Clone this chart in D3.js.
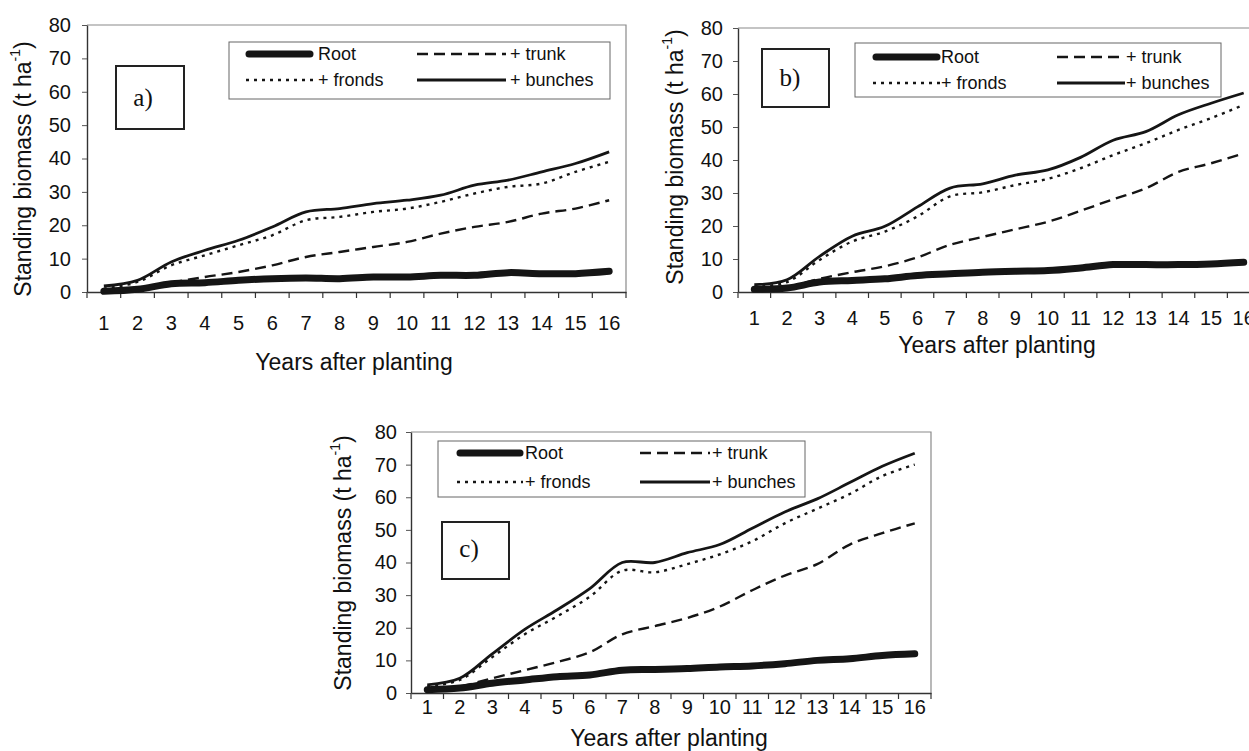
<!DOCTYPE html>
<html>
<head>
<meta charset="utf-8">
<script src="https://cdn.jsdelivr.net/npm/d3@7"></script>
<style>
  html, body { margin: 0; padding: 0; background: #fff; }
  svg { display: block; }
  text { font-family: "Liberation Sans", Arial, sans-serif; fill: #111; }
  .panel-tag { font-family: "Liberation Serif", "Times New Roman", serif; }
</style>
</head>
<body>
<svg id="chart" width="1249" height="751"></svg>
<script>
// Categories and tick labels
const years = [1, 2, 3, 4, 5, 6, 7, 8, 9, 10, 11, 12, 13, 14, 15, 16];
const yTicks = [0, 10, 20, 30, 40, 50, 60, 70, 80];
const seriesNames = ["Root", "+ trunk", "+ fronds", "+ bunches"];
const panelTags = ["a)", "b)", "c)"];

// Cumulative standing biomass (t ha-1), panel a
const rootA    = [0.2, 0.8, 2.5, 2.8, 3.5, 4.0, 4.2, 4.0, 4.5, 4.5, 5.0, 5.0, 5.8, 5.5, 5.5, 6.2];
const trunkA   = [0.3, 1.0, 2.8, 4.5, 6.0, 8.0, 10.5, 12.0, 13.5, 15.0, 17.5, 19.5, 21.0, 23.5, 25.0, 27.5];
const frondsA  = [1.0, 3.0, 8.0, 11.0, 14.0, 17.0, 21.5, 22.5, 24.0, 25.0, 27.0, 29.5, 31.5, 32.5, 36.0, 39.0];
const bunchesA = [1.8, 3.5, 9.0, 12.5, 15.5, 19.5, 24.0, 25.0, 26.5, 27.5, 29.0, 32.0, 33.5, 36.0, 38.5, 42.0];

// Panel b
const rootB    = [0.8, 1.2, 3.0, 3.5, 4.0, 5.0, 5.5, 6.0, 6.3, 6.5, 7.3, 8.3, 8.3, 8.3, 8.5, 9.0];
const trunkB   = [0.8, 1.5, 4.0, 6.0, 7.8, 10.5, 14.3, 16.7, 19.0, 21.3, 24.6, 28.1, 31.4, 36.4, 39.0, 42.0];
const frondsB  = [1.5, 3.0, 9.7, 15.3, 18.3, 22.9, 29.0, 30.2, 32.4, 34.3, 37.5, 41.5, 45.1, 49.1, 52.7, 56.7];
const bunchesB = [2.2, 3.7, 10.8, 16.9, 19.9, 25.8, 31.5, 32.8, 35.4, 37.0, 40.8, 46.0, 48.6, 53.7, 57.2, 60.3];

// Panel c
const rootC    = [1.0, 1.5, 3.0, 4.0, 5.0, 5.5, 7.0, 7.2, 7.5, 8.0, 8.3, 9.0, 10.0, 10.5, 11.5, 12.0];
const trunkC   = [1.0, 2.0, 4.5, 7.0, 9.5, 12.5, 18.0, 20.5, 23.0, 26.5, 31.5, 36.0, 39.5, 45.5, 49.0, 52.0];
const frondsC  = [2.0, 4.0, 11.0, 18.0, 23.5, 29.5, 37.5, 37.0, 39.5, 42.5, 46.5, 52.0, 56.5, 61.0, 66.5, 70.0];
const bunchesC = [2.5, 4.5, 12.0, 19.5, 25.5, 32.0, 40.0, 40.0, 43.0, 45.5, 50.5, 55.5, 59.5, 64.5, 69.5, 73.5];

// Line styles, in series order
const lineStyles = [
  { width: 7,   dash: null,   cap: "round" },
  { width: 2.4, dash: "11,6", cap: "butt" },
  { width: 2.4, dash: "3,5",  cap: "butt" },
  { width: 2.8, dash: null,   cap: "butt" }
];

// Panel geometry
const panels = [
  {
    series: [rootA, trunkA, frondsA, bunchesA],
    plot: { left: 87, right: 626, top: 25, bottom: 292 },
    xLabelY: 323, xTitle: { x: 354, y: 362 },
    yLabelRight: 71, yTitle: { x: 23, y: 169 },
    tag: { x0: 116, y0: 66, x1: 184, y1: 129, tx: 143, ty: 97 },
    legend: { x0: 229, y0: 42, x1: 610, y1: 99, rows: [54, 80],
              cols: [{ l0: 246, l1: 313, t: 318 }, { l0: 417, l1: 506, t: 510 }] }
  },
  {
    series: [rootB, trunkB, frondsB, bunchesB],
    plot: { left: 738, right: 1260, top: 28, bottom: 292 },
    xLabelY: 318, xTitle: { x: 997, y: 345 },
    yLabelRight: 723, yTitle: { x: 675, y: 157 },
    tag: { x0: 762, y0: 49, x1: 829, y1: 107, tx: 790, ty: 77 },
    legend: { x0: 855, y0: 43, x1: 1221, y1: 97, rows: [57, 83],
              cols: [{ l0: 873, l1: 940, t: 941 }, { l0: 1057, l1: 1125, t: 1126 }] }
  },
  {
    series: [rootC, trunkC, frondsC, bunchesC],
    plot: { left: 411, right: 931, top: 432, bottom: 693 },
    xLabelY: 707, xTitle: { x: 669, y: 738 },
    yLabelRight: 397, yTitle: { x: 343, y: 563 },
    tag: { x0: 442, y0: 522, x1: 509, y1: 579, tx: 469, ty: 548 },
    legend: { x0: 438, y0: 441, x1: 805, y1: 497, rows: [453, 482],
              cols: [{ l0: 457, l1: 523, t: 525 }, { l0: 640, l1: 710, t: 712 }] }
  }
];

const svg = d3.select("#chart");

panels.forEach((p, pi) => {
  const g = svg.append("g");
  const x = d3.scaleBand().domain(years).range([p.plot.left, p.plot.right]).padding(0);
  const y = d3.scaleLinear().domain([0, 80]).range([p.plot.bottom, p.plot.top]);
  const cx = d => x(d) + x.bandwidth() / 2;

  // Top and right frame
  g.append("path")
    .attr("d", `M${p.plot.left},${p.plot.top}H${p.plot.right}V${p.plot.bottom}`)
    .attr("fill", "none").attr("stroke", "#8a8a8a").attr("stroke-width", 1.2);

  // Y axis
  const yAxis = g.append("g")
    .attr("transform", `translate(${p.plot.left},0)`)
    .call(d3.axisLeft(y).tickValues(yTicks).tickSize(5).tickSizeOuter(0).tickPadding(p.plot.left - p.yLabelRight - 5));
  yAxis.select(".domain").attr("stroke", "#333").attr("stroke-width", 1.4);
  yAxis.selectAll(".tick line").attr("stroke", "#555");
  yAxis.selectAll(".tick text").attr("font-size", 20).attr("fill", "#111")
    .attr("font-family", "'Liberation Sans', Arial, sans-serif");

  // X axis labels centred in each category band
  const xAxis = g.append("g")
    .attr("transform", `translate(0,${p.plot.bottom})`)
    .call(d3.axisBottom(x).tickSize(0).tickPadding(p.xLabelY - p.plot.bottom - 7));
  xAxis.select(".domain").attr("stroke", "#333").attr("stroke-width", 1.4);
  xAxis.selectAll(".tick text").attr("font-size", 20).attr("fill", "#111")
    .attr("font-family", "'Liberation Sans', Arial, sans-serif");

  // Tick marks on the category boundaries
  const bounds = years.map(d => x(d)).concat([x(years[years.length - 1]) + x.bandwidth()]);
  g.append("g").selectAll("line").data(bounds).join("line")
    .attr("x1", d => d).attr("x2", d => d)
    .attr("y1", p.plot.bottom).attr("y2", p.plot.bottom + 6)
    .attr("stroke", "#333").attr("stroke-width", 1.2);

  // Series lines
  const line = d3.line()
    .x((v, i) => cx(years[i]))
    .y(v => y(v))
    .curve(d3.curveCatmullRom.alpha(0.5));
  p.series.forEach((vals, si) => {
    const st = lineStyles[si];
    g.append("path")
      .datum(vals)
      .attr("d", line)
      .attr("fill", "none")
      .attr("stroke", "#151515")
      .attr("stroke-width", st.width)
      .attr("stroke-linecap", st.cap)
      .attr("stroke-linejoin", "round")
      .attr("stroke-dasharray", st.dash);
  });

  // Axis titles
  g.append("text")
    .attr("x", p.xTitle.x).attr("y", p.xTitle.y)
    .attr("text-anchor", "middle").attr("dominant-baseline", "central")
    .attr("font-size", 23)
    .text("Years after planting");

  const yt = g.append("text")
    .attr("transform", `translate(${p.yTitle.x},${p.yTitle.y}) rotate(-90)`)
    .attr("text-anchor", "middle").attr("dominant-baseline", "central")
    .attr("font-size", 23);
  yt.append("tspan").text("Standing biomass (t ha");
  yt.append("tspan").attr("font-size", 14).attr("dy", -8).text("-1");
  yt.append("tspan").attr("dy", 8).text(")");

  // Panel tag box
  g.append("rect")
    .attr("x", p.tag.x0).attr("y", p.tag.y0)
    .attr("width", p.tag.x1 - p.tag.x0).attr("height", p.tag.y1 - p.tag.y0)
    .attr("fill", "#fff").attr("stroke", "#222").attr("stroke-width", 2);
  g.append("text").attr("class", "panel-tag")
    .attr("x", p.tag.tx).attr("y", p.tag.ty)
    .attr("text-anchor", "middle").attr("dominant-baseline", "central")
    .attr("font-size", 25)
    .text(panelTags[pi]);

  // Legend
  const L = p.legend;
  g.append("rect")
    .attr("x", L.x0).attr("y", L.y0)
    .attr("width", L.x1 - L.x0).attr("height", L.y1 - L.y0)
    .attr("fill", "#fff").attr("stroke", "#666").attr("stroke-width", 1);
  // order: Root (row 0, col 0), + trunk (row 0, col 1), + fronds (row 1, col 0), + bunches (row 1, col 1)
  seriesNames.forEach((name, si) => {
    const row = si < 2 ? 0 : 1;
    const col = si % 2;
    const c = L.cols[col];
    const yy = L.rows[row];
    const st = lineStyles[si];
    g.append("line")
      .attr("x1", c.l0 + (st.cap === "round" ? 3 : 0)).attr("x2", c.l1 - (st.cap === "round" ? 3 : 0))
      .attr("y1", yy).attr("y2", yy)
      .attr("stroke", "#151515")
      .attr("stroke-width", st.width)
      .attr("stroke-linecap", st.cap)
      .attr("stroke-dasharray", st.dash);
    g.append("text")
      .attr("x", c.t).attr("y", yy)
      .attr("dominant-baseline", "central")
      .attr("font-size", 18)
      .text(name);
  });
});
</script>
</body>
</html>
